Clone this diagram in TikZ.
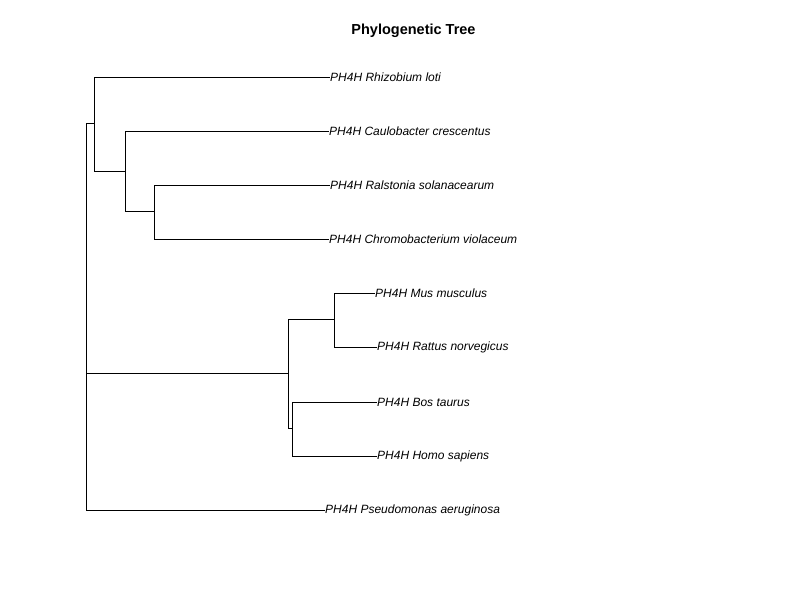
\documentclass[tikz,border=0pt]{standalone}
\usepackage{fontspec}
\setmainfont{Liberation Sans}
\usepackage{tikz}

\begin{document}
\begin{tikzpicture}[x=1pt, y=-1pt,
  tip/.style={anchor=west, inner sep=0pt, font=\fontsize{12}{14}\selectfont\itshape},
  br/.style={line width=1pt}]

\useasboundingbox (0,0) rectangle (800,600);

% Title
\node[font=\fontsize{14.5}{17}\selectfont\bfseries] (title) at (413.5,31) {Phylogenetic Tree};

% Tips
\node[tip] (rhi) at (330,77) {PH4H Rhizobium loti};
\node[tip] (cau) at (329,131) {PH4H Caulobacter crescentus};
\node[tip] (ral) at (330,185) {PH4H Ralstonia solanacearum};
\node[tip] (chr) at (329,239) {PH4H Chromobacterium violaceum};
\node[tip] (mus) at (375,293) {PH4H Mus musculus};
\node[tip] (rat) at (377,347) {PH4H Rattus norvegicus};
\node[tip] (bos) at (377,402) {PH4H Bos taurus};
\node[tip] (hom) at (377,456) {PH4H Homo sapiens};
\node[tip] (pse) at (325,510) {PH4H Pseudomonas aeruginosa};

% Internal nodes
\coordinate (root) at (86,373);
\coordinate (nA) at (94,123);
\coordinate (nB) at (125,171);
\coordinate (nC) at (154,211);
\coordinate (nM) at (288,373);
\coordinate (nD) at (334,319);
\coordinate (nE) at (292,428);

% Branches
\draw[br] (root) |- (nA);
\draw[br] (root) -- (nM);
\draw[br] (root) |- (pse.west);
\draw[br] (nA) |- (rhi.west);
\draw[br] (nA) |- (nB);
\draw[br] (nB) |- (cau.west);
\draw[br] (nB) |- (nC);
\draw[br] (nC) |- (ral.west);
\draw[br] (nC) |- (chr.west);
\draw[br] (nM) |- (nD);
\draw[br] (nM) |- (nE);
\draw[br] (nD) |- (mus.west);
\draw[br] (nD) |- (rat.west);
\draw[br] (nE) |- (bos.west);
\draw[br] (nE) |- (hom.west);

\end{tikzpicture}
\end{document}
